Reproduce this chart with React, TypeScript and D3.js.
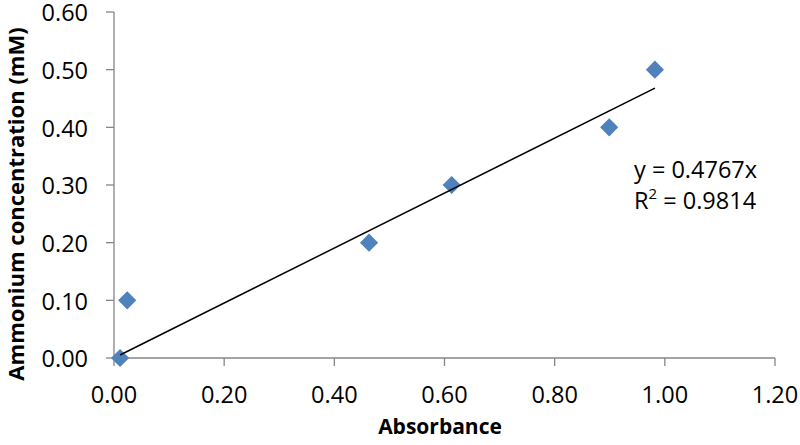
import React from 'react';
import * as d3 from 'd3';

// readings
const absorbance = [0.011, 0.024, 0.463, 0.613, 0.899, 0.982];
const concentration = [0.0, 0.1, 0.2, 0.3, 0.4, 0.5];
const xTicks = [0, 0.2, 0.4, 0.6, 0.8, 1.0, 1.2];
const yTicks = [0, 0.1, 0.2, 0.3, 0.4, 0.5, 0.6];
const slope = 0.4767;
const rSquared = 0.9814;

const width = 800;
const height = 445;
const margin = { top: 12, right: 25, bottom: 87, left: 114 };
const font = "'Open Sans', sans-serif";
const axisColor = '#868686';
const markerColor = '#4F81BD';

const App = () => {
  const xScale = d3.scaleLinear()
    .domain([0, 1.2])
    .range([margin.left, width - margin.right]);

  const yScale = d3.scaleLinear()
    .domain([0, 0.6])
    .range([height - margin.bottom, margin.top]);

  const points = absorbance.map((a, i) => ({ x: a, y: concentration[i] }));

  const xExtent = d3.extent(absorbance) as [number, number];
  const trend = d3.line<number>()
    .x(d => xScale(d))
    .y(d => yScale(slope * d))(xExtent);

  const diamond = d3.symbol().type(d3.symbolDiamond2).size(210)();
  const fmt = d3.format('.2f');
  const x0 = xScale(0);
  const y0 = yScale(0);

  return (
    <svg width={width} height={height} style={{ position: 'absolute', left: 0, top: 0, background: '#fff' }}>
      {/* y axis */}
      <line x1={x0} x2={x0} y1={yScale(0.6)} y2={y0} stroke={axisColor} strokeWidth={1.3} />
      {yTicks.map(t => (
        <g key={'y' + t}>
          <line x1={x0 - 8} x2={x0} y1={yScale(t)} y2={yScale(t)} stroke={axisColor} strokeWidth={1.3} />
          <text x={88} y={yScale(t) + 1} dy="0.35em" textAnchor="end" fontFamily={font} fontSize={23.5} fill="#000">
            {fmt(t)}
          </text>
        </g>
      ))}

      {/* x axis */}
      <line x1={x0} x2={xScale(1.2)} y1={y0} y2={y0} stroke={axisColor} strokeWidth={1.3} />
      {xTicks.map(t => (
        <g key={'x' + t}>
          <line x1={xScale(t)} x2={xScale(t)} y1={y0} y2={y0 + 8} stroke={axisColor} strokeWidth={1.3} />
          <text x={xScale(t)} y={395} dy="0.35em" textAnchor="middle" fontFamily={font} fontSize={23.5} fill="#000">
            {fmt(t)}
          </text>
        </g>
      ))}

      {/* axis titles */}
      <text x={440} y={434} textAnchor="middle" fontFamily={font} fontSize={21} fontWeight="bold" fill="#000">
        Absorbance
      </text>
      <text transform={`translate(24, ${(margin.top + y0) / 2 + 19}) rotate(-90)`} textAnchor="middle"
        fontFamily={font} fontSize={22} fontWeight="bold" fill="#000">
        Ammonium concentration (mM)
      </text>

      {/* markers */}
      {points.map((p, i) => (
        <path key={i} d={diamond} transform={`translate(${xScale(p.x)},${yScale(p.y)})`} fill={markerColor} />
      ))}

      {/* trendline */}
      <path d={trend || ''} fill="none" stroke="#000" strokeWidth={1.5} />

      {/* equation */}
      <text x={634} y={178} fontFamily={font} fontSize={23.5} fill="#000">
        {`y = ${slope}x`}
      </text>
      <text x={634} y={209} fontFamily={font} fontSize={23.5} fill="#000">
        R<tspan fontSize={15} dy={-10}>2</tspan><tspan dy={10}>{` = ${rSquared}`}</tspan>
      </text>
    </svg>
  );
};

export default App;
